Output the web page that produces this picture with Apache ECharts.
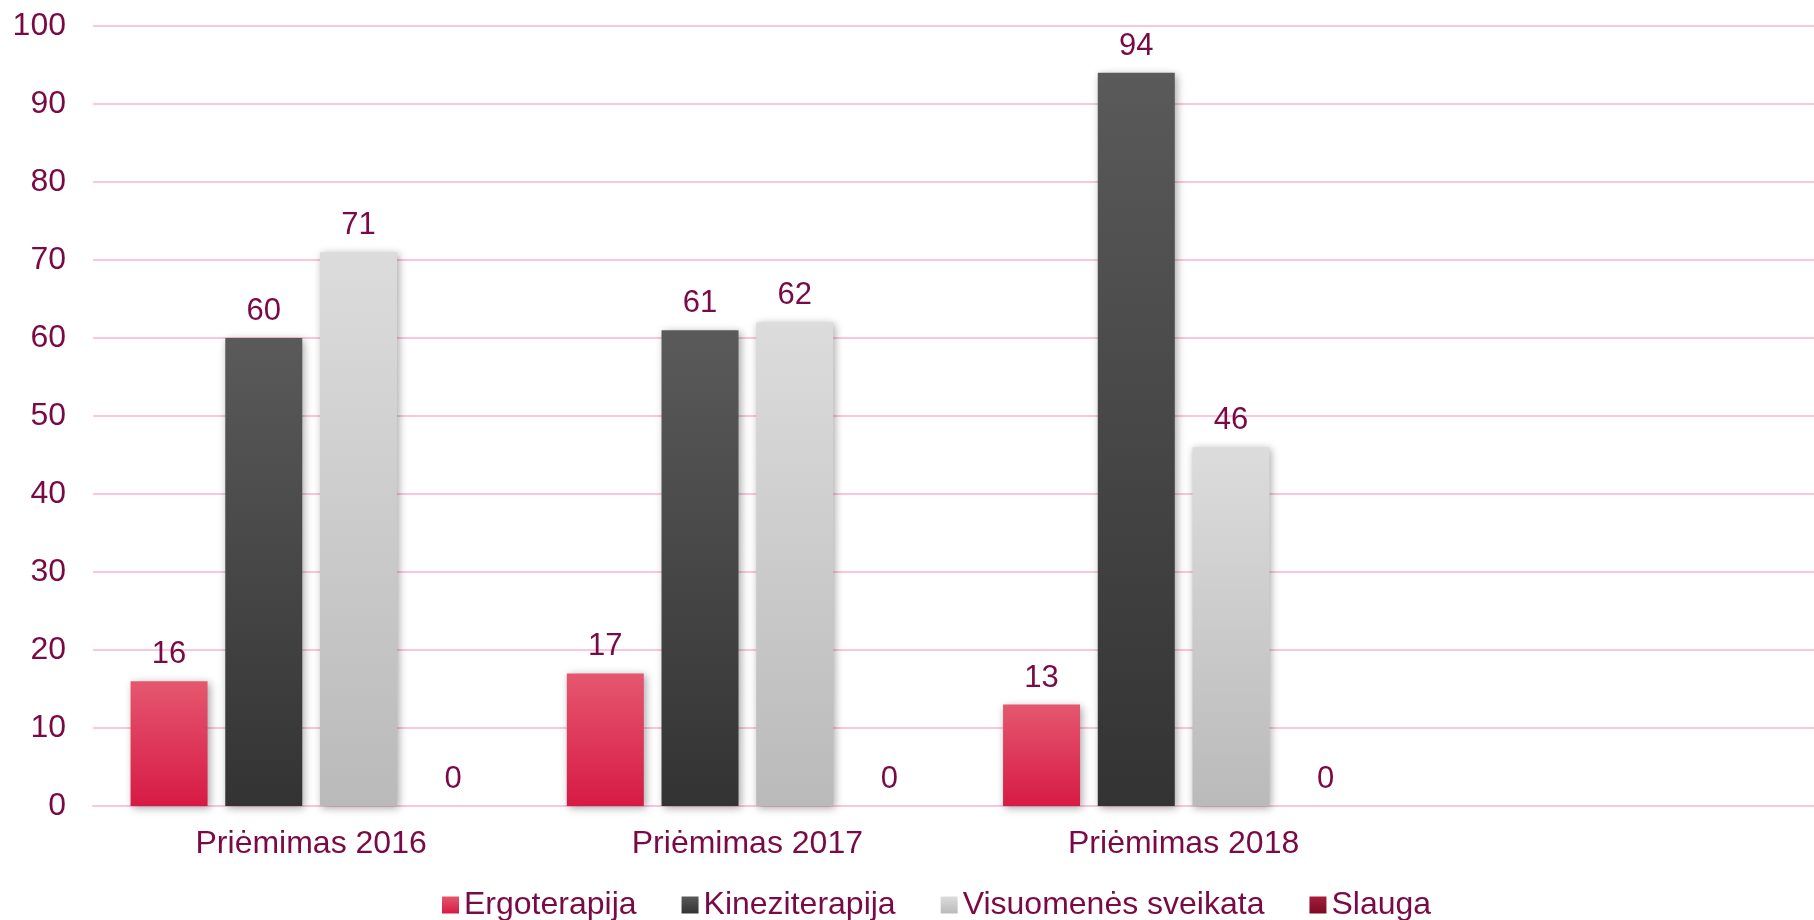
<!DOCTYPE html>
<html>
<head>
<meta charset="utf-8">
<script src="https://cdn.jsdelivr.net/npm/echarts@6/dist/echarts.min.js"></script>
<style>
  html, body { margin: 0; padding: 0; background: #fff; overflow: hidden; }
  /* plotas išeina šiek tiek už dešinio krašto, kaip originale */
  #chart { width: 1838px; height: 920px; }
</style>
</head>
<body>
<div id="chart"></div>
<script>
// kategorijos (ketvirta tuščia, kaip originale)
const categories = ['Priėmimas 2016', 'Priėmimas 2017', 'Priėmimas 2018', ''];
const seriesNames = ['Ergoterapija', 'Kineziterapija', 'Visuomenės sveikata', 'Slauga'];
const ergoterapija = [16, 17, 13, null];
const kineziterapija = [60, 61, 94, null];
const visuomenes = [71, 62, 46, null];
const slauga = [0, 0, 0, null];
const yTicks = { min: 0, max: 100, interval: 10 };

const textColor = '#7a0a45';
const gridColor = '#fcc6de';

function grad(top, bottom) {
  return new echarts.graphic.LinearGradient(0, 0, 0, 1, [
    { offset: 0, color: top },
    { offset: 1, color: bottom }
  ]);
}

const colors = [
  grad('#e5576f', '#d71a44'),
  grad('#5a5a5a', '#333333'),
  grad('#dcdcdc', '#bababa'),
  grad('#a51d3e', '#7c0a22')
];

const values = [ergoterapija, kineziterapija, visuomenes, slauga];

let chart = echarts.init(document.getElementById('chart'));
let option = {
  backgroundColor: '#fff',
  textStyle: { fontFamily: 'Liberation Sans, Arial, sans-serif' },
  grid: { left: 93, right: 0, top: 26, bottom: 114, containLabel: false },
  legend: {
    top: 884,
    left: 437,
    itemWidth: 17,
    itemHeight: 17,
    itemGap: 45,
    icon: 'rect',
    textStyle: { color: textColor, fontSize: 32, padding: [0, 0, 0, 0] },
    data: seriesNames
  },
  xAxis: {
    type: 'category',
    data: categories,
    axisLine: { show: true, lineStyle: { color: gridColor, width: 2 } },
    axisTick: { show: false },
    axisLabel: { color: textColor, fontSize: 32, margin: 22 }
  },
  yAxis: {
    type: 'value',
    min: yTicks.min,
    max: yTicks.max,
    interval: yTicks.interval,
    axisLine: { show: false },
    axisTick: { show: false },
    axisLabel: { color: textColor, fontSize: 32, margin: 27 },
    splitLine: { lineStyle: { color: gridColor, width: 2 } }
  },
  series: seriesNames.map((name, i) => ({
    name: name,
    type: 'bar',
    data: values[i],
    barWidth: 77,
    barGap: '23%',
    itemStyle: {
      color: colors[i],
      shadowBlur: 8,
      shadowColor: 'rgba(0,0,0,0.35)',
      shadowOffsetX: 2,
      shadowOffsetY: 2
    },
    label: {
      show: true,
      position: 'top',
      distance: 11,
      color: textColor,
      fontSize: 31
    }
  }))
};
chart.setOption(option);
</script>
</body>
</html>
